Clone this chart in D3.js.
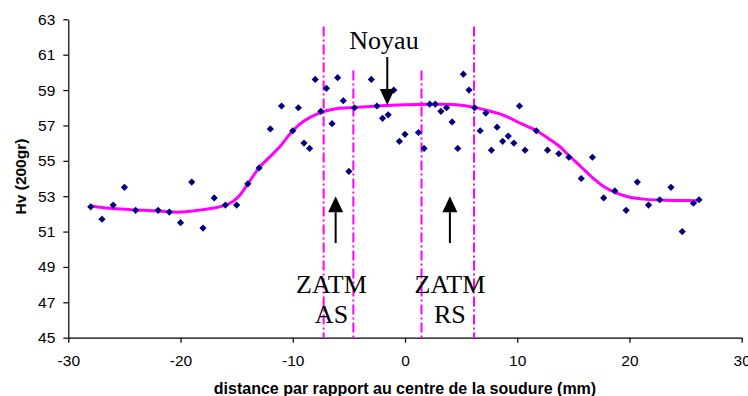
<!DOCTYPE html>
<html>
<head>
<meta charset="utf-8">
<script src="https://cdn.jsdelivr.net/npm/d3@7"></script>
<style>
  html, body { margin: 0; padding: 0; background: #ffffff; }
  svg { display: block; }
</style>
</head>
<body>
<svg id="chart" width="748" height="396"></svg>
<script>
// ---- data ----
const pointX = [-28, -27, -26, -25, -24, -22, -21, -20, -19, -18, -17, -16, -15, -14, -13, -12, -11, -10, -9.5, -9, -8.5, -8, -7.5, -7, -6.5, -6, -5.5, -5, -4.5, -3, -2.5, -2, -1.5, -1, -0.5, 0, 1.2, 1.7, 2.2, 2.7, 3.2, 3.7, 4.2, 4.7, 5.2, 5.7, 6.2, 6.7, 7.2, 7.7, 8.2, 8.7, 9.2, 9.7, 10.2, 10.7, 11.7, 12.7, 13.7, 14.6, 15.7, 16.7, 17.7, 18.7, 19.7, 20.7, 21.7, 22.7, 23.7, 24.7, 25.7, 26.2];
const pointHv = [52.4, 51.7, 52.5, 53.5, 52.2, 52.2, 52.1, 51.5, 53.8, 51.2, 52.9, 52.5, 52.5, 53.7, 54.6, 56.8, 58.1, 56.7, 58.0, 56.0, 55.7, 59.6, 57.8, 59.1, 57.1, 59.7, 58.4, 54.4, 58.0, 59.6, 58.1, 57.4, 57.6, 59.0, 56.1, 56.5, 56.6, 55.7, 58.2, 58.2, 57.8, 58.0, 57.2, 55.7, 59.9, 59.0, 58.0, 56.7, 57.7, 55.6, 56.9, 56.1, 56.4, 56.0, 58.1, 55.6, 56.7, 55.6, 55.4, 55.2, 54.0, 55.2, 52.9, 53.3, 52.2, 53.8, 52.5, 52.8, 53.5, 51.0, 52.6, 52.8];

const trendX = [-28, -26, -24, -22, -20, -18, -17, -16, -15.3, -14.7, -14, -13, -12, -11.15, -10, -9, -8, -7, -6, -4.5, -2.5, 0, 2.2, 4.3, 6.2, 7.5, 8.7, 10.2, 11.7, 12.7, 13.7, 14.6, 15.7, 16.7, 17.7, 18.7, 19.7, 20.6, 21.5, 22.7, 24, 26.1];
const trendHv = [52.45, 52.3, 52.22, 52.16, 52.1, 52.24, 52.33, 52.5, 52.72, 53.07, 53.7, 54.6, 55.25, 55.8, 56.7, 57.25, 57.6, 57.83, 57.96, 58.02, 58.1, 58.17, 58.2, 58.18, 58.02, 57.82, 57.6, 57.15, 56.7, 56.3, 55.85, 55.3, 54.65, 54.05, 53.55, 53.22, 53.0, 52.88, 52.82, 52.78, 52.76, 52.74];

const xTicks = [-30, -20, -10, 0, 10, 20, 30];
const yTicks = [45, 47, 49, 51, 53, 55, 57, 59, 61, 63];

const zoneX = [-7.25, -4.6, 1.47, 6.15];
const zoneTop = [62.6, 60.1, 60.1, 62.6];

const labelZones = [["ZATM", "AS"], ["ZATM", "RS"]];
const labelZoneX = [-6.55, 4.0];
const labelNoyau = "Noyau";

const xTitle = "distance par rapport au centre de la soudure (mm)";
const yTitle = "Hv (200gr)";

// ---- layout ----
const svg = d3.select("#chart");
const x = d3.scaleLinear().domain([-30, 30]).range([68.3, 741.7]);
const y = d3.scaleLinear().domain([45, 63]).range([337.7, 19.3]);

const sansFont = "'Liberation Sans', Arial, sans-serif";
const serifFont = "'Liberation Serif', 'Times New Roman', serif";

// axes
const yAxis = svg.append("g")
  .attr("transform", `translate(${x(-30)},0)`)
  .call(d3.axisLeft(y).tickValues(yTicks).tickFormat(d3.format("d")).tickSize(5).tickPadding(8).tickSizeOuter(0));
const xAxis = svg.append("g")
  .attr("transform", `translate(0,${y(45)})`)
  .call(d3.axisBottom(x).tickValues(xTicks).tickFormat(d3.format("d")).tickSize(5).tickPadding(12).tickSizeOuter(0));

[yAxis, xAxis].forEach(g => {
  g.selectAll("path.domain").attr("stroke", "#000").attr("stroke-width", 1.2);
  g.selectAll(".tick line").attr("stroke", "#000").attr("stroke-width", 1.2);
  g.selectAll(".tick text").attr("fill", "#000").style("font-family", sansFont).style("font-size", "15.5px");
});
xAxis.selectAll(".tick text").text(d => d < 0 ? "-" + Math.abs(d) : String(d));

// zone boundary lines (dash-dot)
svg.append("g").selectAll("line")
  .data(zoneX)
  .join("line")
  .attr("x1", d => x(d)).attr("x2", d => x(d))
  .attr("y1", (d, i) => y(zoneTop[i]))
  .attr("y2", y(45))
  .attr("stroke", "#ff00ff")
  .attr("stroke-width", 2)
  .attr("stroke-dasharray", "10,3,2,3");

// trend curve
const trendData = trendX.map((d, i) => [d, trendHv[i]]);
svg.append("path")
  .datum(trendData)
  .attr("fill", "none")
  .attr("stroke", "#ff00ff")
  .attr("stroke-width", 3)
  .attr("d", d3.line().x(d => x(d[0])).y(d => y(d[1])).curve(d3.curveCatmullRom.alpha(0.5)));

// points
const pts = pointX.map((d, i) => [d, pointHv[i]]);
svg.append("g").selectAll("path")
  .data(pts)
  .join("path")
  .attr("transform", d => `translate(${x(d[0])},${y(d[1])})`)
  .attr("d", "M0,-3.6L3.6,0L0,3.6L-3.6,0Z")
  .attr("fill", "#000080");

// annotations: arrows
function arrow(xv, yFrom, yTo) {
  const px = x(xv), p0 = y(yFrom), p1 = y(yTo);
  const dir = p1 > p0 ? 1 : -1;
  const headLen = 16, headHalf = 7.5;
  svg.append("line")
    .attr("x1", px).attr("x2", px)
    .attr("y1", p0).attr("y2", p1 - dir * headLen)
    .attr("stroke", "#000").attr("stroke-width", 2);
  svg.append("path")
    .attr("d", `M${px},${p1}L${px - headHalf},${p1 - dir * headLen}L${px + headHalf},${p1 - dir * headLen}Z`)
    .attr("fill", "#000");
}
arrow(-1.58, 60.87, 58.15);
arrow(-6.18, 50.35, 53.0);
arrow(4.0, 50.35, 53.0);

// texts
svg.append("text")
  .attr("x", x(-1.87)).attr("y", 49.3)
  .attr("text-anchor", "middle")
  .style("font-family", serifFont).style("font-size", "26px")
  .attr("fill", "#000")
  .text(labelNoyau);

labelZones.forEach((lines, i) => {
  lines.forEach((t, j) => {
    svg.append("text")
      .attr("x", x(labelZoneX[i])).attr("y", 292.7 + j * 30)
      .attr("text-anchor", "middle")
      .style("font-family", serifFont).style("font-size", "26px")
      .attr("fill", "#000")
      .text(t);
  });
});

svg.append("text")
  .attr("x", x(0)).attr("y", 394)
  .attr("text-anchor", "middle")
  .style("font-family", sansFont).style("font-size", "16px").style("font-weight", "bold")
  .attr("fill", "#000")
  .text(xTitle);

svg.append("text")
  .attr("transform", "translate(26,176.5) rotate(-90)")
  .attr("text-anchor", "middle")
  .style("font-family", sansFont).style("font-size", "15.5px").style("font-weight", "bold")
  .attr("fill", "#000")
  .text(yTitle);
</script>
</body>
</html>
